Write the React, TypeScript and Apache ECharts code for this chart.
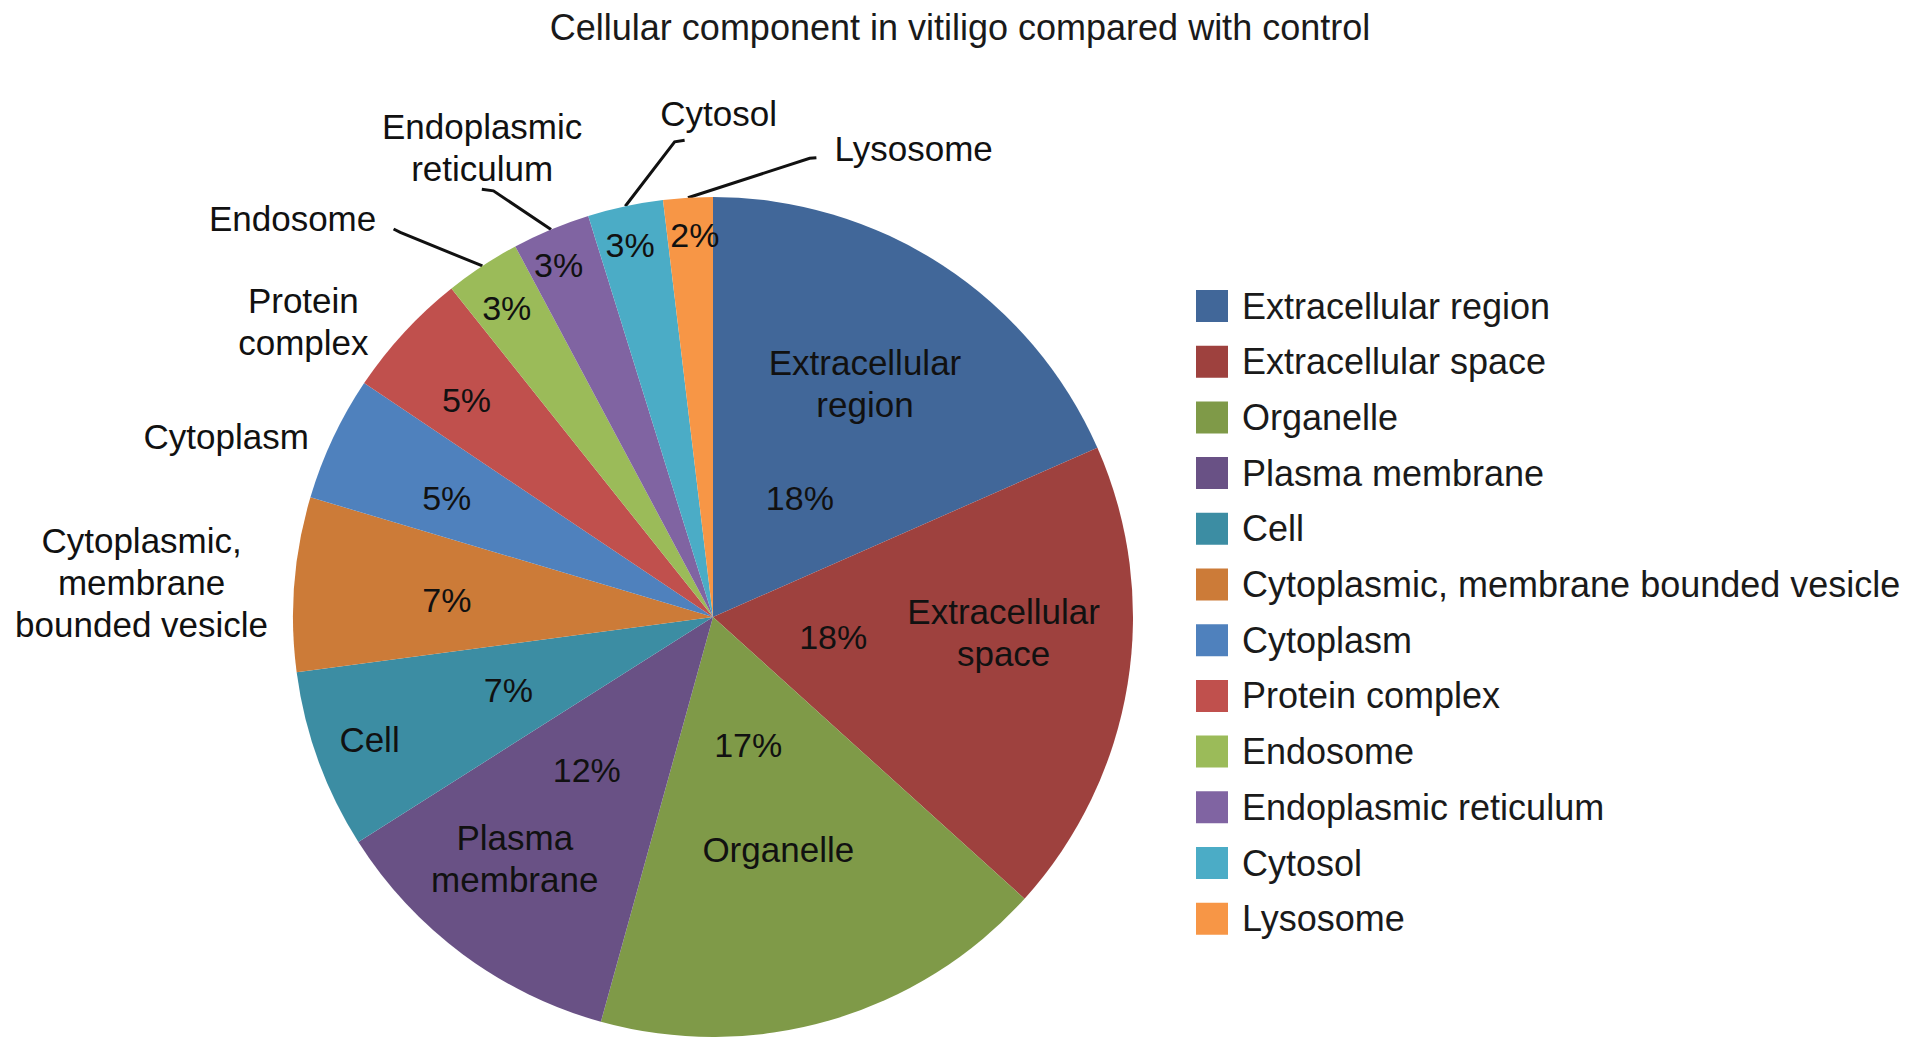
import React, { useEffect, useRef } from "react";
import * as echarts from "echarts";

const titleText = "Cellular component in vitiligo compared with control";

const categories = [
  "Extracellular region",
  "Extracellular space",
  "Organelle",
  "Plasma membrane",
  "Cell",
  "Cytoplasmic, membrane bounded vesicle",
  "Cytoplasm",
  "Protein complex",
  "Endosome",
  "Endoplasmic reticulum",
  "Cytosol",
  "Lysosome",
];

// share of each slice (%)
const values = [18.4, 18.3, 17.6, 11.7, 6.9, 6.7, 4.8, 4.9, 2.9, 3.0, 2.9, 1.9];

// slice name labels as broken on the chart
const sliceLabels = [
  "Extracellular\nregion",
  "Extracellular\nspace",
  "Organelle",
  "Plasma\nmembrane",
  "Cell",
  "Cytoplasmic,\nmembrane\nbounded vesicle",
  "Cytoplasm",
  "Protein\ncomplex",
  "Endosome",
  "Endoplasmic\nreticulum",
  "Cytosol",
  "Lysosome",
];

const colors = [
  "#416799",
  "#9E413E",
  "#7F9A48",
  "#695185",
  "#3C8DA3",
  "#CC7B38",
  "#4F81BD",
  "#C0504D",
  "#9BBB59",
  "#8064A2",
  "#4BACC6",
  "#F79646",
];

// label placement: [fraction of radius, angular offset (deg) from slice middle]
const pctPos = [
  [0.35, 3.1], [0.29, 0.1], [0.316, 0.8], [0.472, 3.0], [0.517, 0.4], [0.635, -0.85],
  [0.694, -1.2], [0.782, -1.3], [0.884, -0.45], [0.915, -1.0], [0.907, -0.5], [0.911, 0.7],
];
const namePos = [
  [0.664, -0.1], [0.693, -6.1], [0.576, 0.55], [0.743, 2.9], [0.868, 0.4], [1.363, -1.05],
  [1.236, -4.9], [1.202, -6.9], [1.38, -13.2], [1.246, -3.5], [1.199, 12.7], [1.214, 26.6],
];
// leader line bends, relative to label centre: [elbow, end]
const leaders: Record<number, number[][]> = {
  8: [[107.7, 14.4], [101, 11]],
  9: [[11.3, 43.5], [-0.3, 41.8]],
  10: [[-44, 28.4], [-34, 26.7]],
  11: [[-104, 10], [-97.3, 9.4]],
};

const FONT = "'Liberation Sans', Arial, Helvetica, sans-serif";
const CX = 713;
const CY = 617;
const R = 420;

export default function App() {
  const ref = useRef<HTMLDivElement>(null);

  useEffect(() => {
    if (!ref.current) return;
    const chart = echarts.init(ref.current, undefined, { renderer: "svg" });

    const total = values.reduce((a, b) => a + b, 0);
    const mids: number[] = [];
    let acc = 0;
    values.forEach((v) => {
      const span = (v / total) * 360;
      mids.push(acc + span / 2);
      acc += span;
    });
    const polar = (f: number, deg: number) => {
      const a = (deg * Math.PI) / 180;
      return [CX + f * R * Math.sin(a), CY - f * R * Math.cos(a)];
    };

    const data = categories.map((n, i) => ({ name: n, value: values[i] }));

    chart.setOption({
      animation: false,
      color: colors,
      title: {
        text: titleText,
        left: 960,
        top: 9,
        textAlign: "center",
        padding: 0,
        textStyle: {
          fontFamily: FONT,
          fontSize: 36,
          fontWeight: "normal",
          color: "#1a1a1a",
          lineHeight: 36,
        },
      },
      legend: {
        orient: "vertical",
        left: 1196,
        top: 288,
        padding: 0,
        itemWidth: 32,
        itemHeight: 32,
        itemGap: 19.7,
        icon: "rect",
        selectedMode: false,
        data: categories,
        textStyle: {
          fontFamily: FONT,
          fontSize: 36,
          color: "#1a1a1a",
          lineHeight: 32,
          padding: [0, 0, 0, 9],
        },
      },
      series: [
        {
          type: "pie",
          center: [CX, CY],
          radius: R,
          startAngle: 90,
          clockwise: true,
          avoidLabelOverlap: false,
          percentPrecision: 0,
          silent: true,
          emphasis: { disabled: true },
          itemStyle: { borderWidth: 0 },
          data,
          label: {
            show: true,
            position: "inside",
            formatter: "{d}%",
            fontFamily: FONT,
            fontSize: 34,
            color: "#111",
            textBorderWidth: 0,
            textBorderColor: "transparent",
          },
          labelLine: { show: false },
          labelLayout: (p: any) => {
            const i = p.dataIndex;
            const [x, y] = polar(pctPos[i][0], mids[i] + pctPos[i][1]);
            return { x, y, align: "center", verticalAlign: "middle" };
          },
        },
        {
          type: "pie",
          center: [CX, CY],
          radius: R,
          startAngle: 90,
          clockwise: true,
          avoidLabelOverlap: false,
          silent: true,
          emphasis: { disabled: true },
          itemStyle: { color: "rgba(0,0,0,0)", borderWidth: 0 },
          data: categories.map((n, i) => ({
            name: n,
            value: values[i],
            labelLine: { show: leaders[i] !== undefined },
          })),
          label: {
            show: true,
            position: "outside",
            formatter: (p: any) => sliceLabels[p.dataIndex],
            fontFamily: FONT,
            fontSize: 35,
            lineHeight: 42,
            color: "#111",
            textBorderWidth: 0,
            textBorderColor: "transparent",
          },
          labelLine: {
            show: false,
            smooth: false,
            lineStyle: { color: "#111", width: 3 },
          },
          labelLayout: (p: any) => {
            const i = p.dataIndex;
            const [x, y] = polar(namePos[i][0], mids[i] + namePos[i][1]);
            const res: any = { x, y, align: "center", verticalAlign: "middle" };
            const l = leaders[i];
            if (l) {
              res.labelLinePoints = [
                polar(1, mids[i]),
                [x + l[0][0], y + l[0][1]],
                [x + l[1][0], y + l[1][1]],
              ];
            }
            return res;
          },
        },
      ],
    });

    return () => chart.dispose();
  }, []);

  return (
    <div
      ref={ref}
      style={{ position: "fixed", left: 0, top: 0, width: 1913, height: 1052, background: "#fff" }}
    />
  );
}
